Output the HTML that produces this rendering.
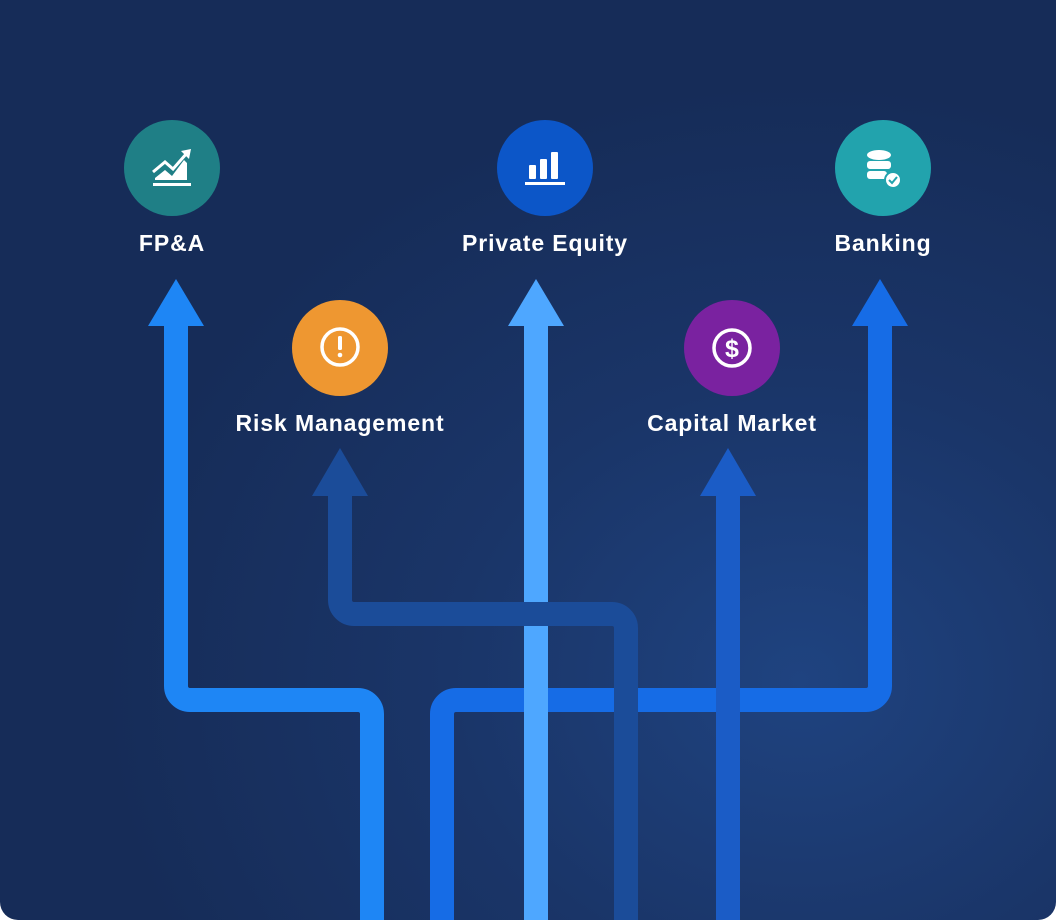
<!DOCTYPE html>
<html><head><meta charset="utf-8"><style>
html,body{margin:0;padding:0;background:#fff;}
#c{position:relative;width:1056px;height:920px;overflow:hidden;border-radius:0 0 18px 18px;
background:radial-gradient(ellipse 700px 600px at 800px 680px,#1f4380 0%,#1a3568 50%,#162c58 100%);}
svg{position:absolute;left:0;top:0;}
text{font-family:"Liberation Sans",sans-serif;font-weight:bold;fill:#fff;font-size:23px;letter-spacing:0.9px;text-anchor:middle;}
</style></head><body><div id="c">
<svg width="1056" height="920" viewBox="0 0 1056 920">
<g fill="none" stroke-width="24" stroke-linejoin="round">
<path d="M176 320 V686 a14 14 0 0 0 14 14 H358 a14 14 0 0 1 14 14 V930" stroke="#1e86f5"/>
<path d="M880 320 V686 a14 14 0 0 1 -14 14 H456 a14 14 0 0 0 -14 14 V930" stroke="#166ce6"/>
<path d="M536 320 V930" stroke="#4ea7ff"/>
<path d="M340 490 V600 a14 14 0 0 0 14 14 H612 a14 14 0 0 1 14 14 V930" stroke="#1b4c99"/>
<path d="M728 490 V930" stroke="#1b5cc6"/>
</g>
<polygon points="176,279 204,326 148,326" fill="#1e86f5"/>
<polygon points="536,279 564,326 508,326" fill="#4ea7ff"/>
<polygon points="880,279 908,326 852,326" fill="#166ce6"/>
<polygon points="340,448 368,496 312,496" fill="#1b4c99"/>
<polygon points="728,448 756,496 700,496" fill="#1b5cc6"/>

<circle cx="172" cy="168" r="48" fill="#1f7f86"/>
<circle cx="545" cy="168" r="48" fill="#0c56c8"/>
<circle cx="883" cy="168" r="48" fill="#22a3ad"/>
<circle cx="340" cy="348" r="48" fill="#ee9731"/>
<circle cx="732" cy="348" r="48" fill="#7a22a0"/>

<g fill="#fff" stroke="none">
<rect x="153" y="183" width="38" height="3"/>
<polygon points="155,178 165,170 172,176 184,160 187,163 187,180 155,180"/>
</g>
<path d="M153 172 L165 162 L173 169 L187 153" stroke="#fff" stroke-width="3" fill="none"/>
<polygon points="181,151 191,149 189,159" fill="#fff"/>
<g fill="#fff">
<rect x="529" y="165" width="7" height="14" rx="1"/>
<rect x="540" y="159" width="7" height="20" rx="1"/>
<rect x="551" y="152" width="7" height="27" rx="1"/>
<rect x="525" y="182" width="40" height="3"/>
</g>
<g fill="#fff">
<ellipse cx="879" cy="155" rx="12" ry="5"/>
<rect x="867" y="161" width="24" height="8" rx="3"/>
<rect x="867" y="171" width="20" height="8" rx="3"/>
<circle cx="893" cy="180" r="8" fill="#fff" stroke="#22a3ad" stroke-width="2"/>
<path d="M889 180 l3 3 l5 -6" stroke="#22a3ad" stroke-width="2" fill="none"/>
</g>
<circle cx="340" cy="347" r="18" fill="none" stroke="#fff" stroke-width="3.5"/>
<rect x="338" y="336" width="4" height="14" rx="1.5" fill="#fff"/>
<circle cx="340" cy="355" r="2.3" fill="#fff"/>
<circle cx="732" cy="348" r="18" fill="none" stroke="#fff" stroke-width="3.5"/>
<text x="732" y="357" style="font-size:25px;letter-spacing:0">$</text>

<text x="172" y="251">FP&amp;A</text>
<text x="545" y="251">Private Equity</text>
<text x="883" y="251">Banking</text>
<text x="340" y="431">Risk Management</text>
<text x="732" y="431">Capital Market</text>
</svg>
</div></body></html>
